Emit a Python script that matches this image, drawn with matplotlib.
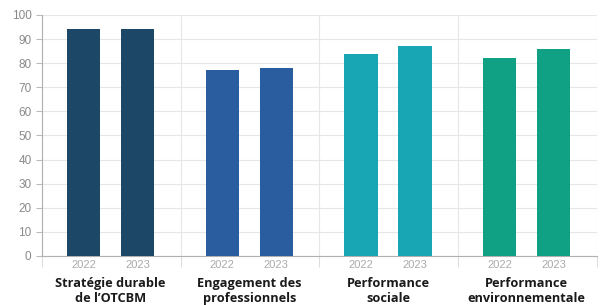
import matplotlib
matplotlib.use("Agg")
import matplotlib.pyplot as plt
import numpy as np

plt.rcParams.update({"font.family": ["Open Sans", "DejaVu Sans"]})

categories = ["Stratégie durable\nde l’OTCBM", "Engagement des\nprofessionnels",
              "Performance\nsociale", "Performance\nenvironnementale"]
years = ["2022", "2023"]
values_2022 = [94, 77, 84, 82]
values_2023 = [94, 78, 87, 86]
colors = ["#1c4767", "#2a5ca0", "#19a6b4", "#10a083"]

fig = plt.figure(figsize=(6.04, 3.05), dpi=100)
ax = fig.add_axes([0.0695, 0.1607, 0.9185, 0.7903])

offsets = [0.30, 0.69]
w = 0.24
for i, c in enumerate(colors):
    for off, val in zip(offsets, [values_2022[i], values_2023[i]]):
        ax.bar(i + off, val, w, color=c, zorder=3)

ax.set_xlim(0, 4)
ax.set_ylim(0, 100)
ax.set_yticks(np.arange(0, 101, 10))
ax.set_xticks([0, 1, 2, 3, 4])
ax.set_xticklabels([])
ax.grid(True, color="#e6e6e6", lw=0.8, zorder=0)
ax.tick_params(axis="y", colors="#bbbbbb", labelcolor="#8a8a8a", labelsize=8.5, length=4)
ax.tick_params(axis="x", colors="#dddddd", length=8)
for lab in ax.get_yticklabels():
    lab.set_fontfamily("Liberation Sans")
for s in ["top", "right"]:
    ax.spines[s].set_visible(False)
for s in ["left", "bottom"]:
    ax.spines[s].set_color("#b0b0b0")

for i, cat in enumerate(categories):
    for off, yr in zip(offsets, years):
        ax.text(i + off, -3.6, yr, ha="center", va="center", fontsize=8,
                color="#aaaaaa", family="Liberation Sans")
    ax.text(i + 0.495, -8.8, cat, ha="center", va="top", fontsize=9.2,
            fontweight="bold", color="#1a1a1a", linespacing=1.2)

fig.savefig("out.png", dpi=100)
